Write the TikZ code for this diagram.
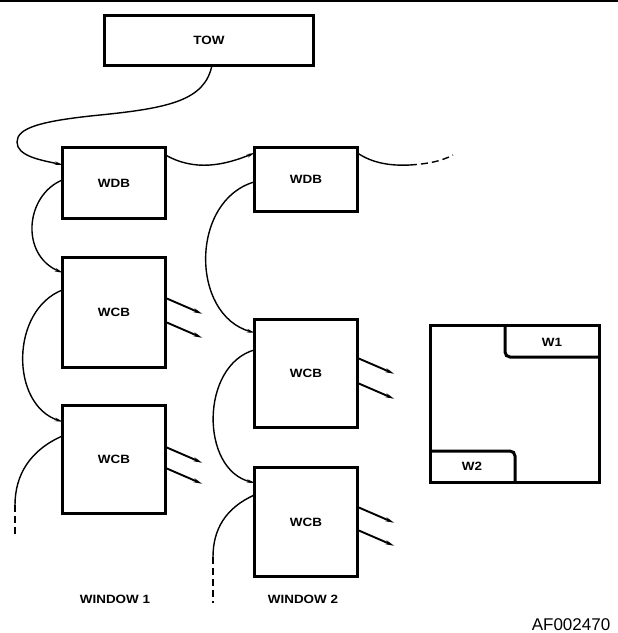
\documentclass[tikz,border=0pt]{standalone}
\usepackage{fontspec}
\setmainfont{Liberation Sans}
\newfontfamily\lblfont[FakeStretch=1.12]{Liberation Sans}
\usetikzlibrary{arrows.meta,calc}
\begin{document}
\begin{tikzpicture}[x=1pt,y=-1pt,
  blk/.style={minimum width=102pt,inner sep=0pt,font=\lblfont\bfseries\fontsize{12}{12}\selectfont},
  frame/.style={line width=3pt,line join=miter},
  lbl/.style={font=\lblfont\bfseries\fontsize{12}{12}\selectfont,inner sep=0pt},
  wire/.style={line width=1.4pt},
  dwire/.style={line width=1.4pt,dash pattern=on 7pt off 4pt},
  intip/.style={-{Stealth[length=8pt,width=3.5pt]}},
  outarrow/.style={line width=1.9pt,-{Stealth[length=9pt,width=4pt]}}]
\useasboundingbox (0,0) rectangle (618,633);
% top rule
\draw[line width=1.2pt] (0,1) -- (618,1);
% boxes
\node[blk,minimum width=208pt,minimum height=49pt] (tow) at (209,40.5) {TOW};
\node[blk,minimum height=70pt] (wdb1) at (114,183) {WDB};
\node[blk,minimum height=63pt] (wdb2) at (306,179.5) {WDB};
\node[blk,minimum height=109pt] (wcb1) at (114,312.5) {WCB};
\node[blk,minimum height=107pt] (wcb2) at (114,459.5) {WCB};
\node[blk,minimum height=107pt] (wcb3) at (306,373.5) {WCB};
\node[blk,minimum height=108pt] (wcb4) at (306,522) {WCB};
\node[minimum width=168pt,minimum height=156pt,inner sep=0pt] (scr) at (515,404) {};
\foreach \b in {tow,wdb1,wdb2,wcb1,wcb2,wcb3,wcb4,scr}{
  \draw[frame] (\b.north west) rectangle (\b.south east);
}
% coordinates for wire ends
\coordinate (twS) at ($(tow.south)+(3,0)$);
\coordinate (d1a) at ($(wdb1.north west)+(0,17)$);
\coordinate (d1b) at ($(wdb1.north west)+(0,32)$);
\coordinate (d1r) at ($(wdb1.north east)+(0,7)$);
\coordinate (d2a) at ($(wdb2.north west)+(0,5)$);
\coordinate (d2b) at ($(wdb2.north west)+(0,34)$);
\coordinate (d2r) at ($(wdb2.north east)+(0,5)$);
\coordinate (c1a) at ($(wcb1.north west)+(0,15)$);
\coordinate (c1b) at ($(wcb1.north west)+(0,32)$);
\coordinate (c2a) at ($(wcb2.north west)+(0,16)$);
\coordinate (c2b) at ($(wcb2.north west)+(0,30)$);
\coordinate (c3a) at ($(wcb3.north west)+(0,13)$);
\coordinate (c3b) at ($(wcb3.north west)+(0,30)$);
\coordinate (c4a) at ($(wcb4.north west)+(0,15)$);
\coordinate (c4b) at ($(wcb4.north west)+(0,27)$);
\coordinate (e1) at (410,165);
\coordinate (e2) at (453,155);
\coordinate (f1) at (15,505);
\coordinate (f2) at (15,537);
\coordinate (g1) at (213,557);
\coordinate (g2) at (213,603);
% wires
\draw[wire,intip] (twS) .. controls (205,100) and (170,108) .. (100,115)
   .. controls (40,121) and (17,128) .. (17,142)
   .. controls (17,156) and (40,160) .. (d1a);
\draw[wire,intip] (d1r) .. controls (195,172) and (225,165) .. (d2a);
\draw[wire] (d2r) .. controls (372,163) and (390,166) .. (e1);
\draw[dwire] (e1) .. controls (425,164) and (440,162) .. (e2);
\draw[wire,intip] (d1b) .. controls (25,195) and (20,255) .. (c1a);
\draw[wire,intip] (c1b) .. controls (10,310) and (10,405) .. (c2a);
\draw[wire] (c2b) .. controls (30,450) and (15,475) .. (f1);
\draw[dwire] (f1) -- (f2);
\draw[wire,intip] (d2b) .. controls (190,200) and (190,315) .. (c3a);
\draw[wire,intip] (c3b) .. controls (200,365) and (200,470) .. (c4a);
\draw[wire] (c4b) .. controls (225,508) and (213,530) .. (g1);
\draw[dwire] (g1) -- (g2);
% output arrows
\foreach \b/\p/\q in {wcb1/40/64, wcb2/41/62, wcb3/38/63, wcb4/39/62}{
  \draw[outarrow] ($(\b.north east)+(0,\p)$) -- ++(37,16);
  \draw[outarrow] ($(\b.north east)+(0,\q)$) -- ++(37,16);
}
% window labels
\node[lbl] (w1lab) at (115,599) {WINDOW 1};
\node[lbl] (w2lab) at (303,599) {WINDOW 2};
% screen sub-windows
\draw[frame,rounded corners=5pt] (505,326) -- (505,357) -- (scr.east |- 0,357);
\draw[frame,rounded corners=5pt] (scr.west |- 0,451) -- (515,451) -- (515,482);
\node[lbl] (w1) at (552,342) {W1};
\node[lbl] (w2) at (472,466) {W2};
% figure id
\node[font=\fontsize{17}{17}\selectfont,inner sep=0pt] (fid) at (571,625) {AF002470};
\end{tikzpicture}
\end{document}
